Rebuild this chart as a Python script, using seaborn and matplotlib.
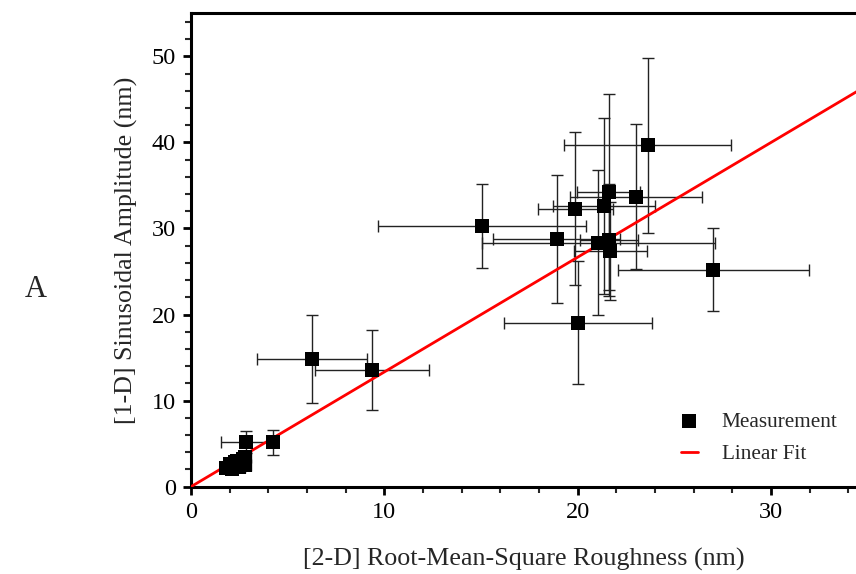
import numpy as np
import pandas as pd
import matplotlib
matplotlib.use("Agg")
import matplotlib.pyplot as plt
import seaborn as sns
from matplotlib.ticker import MultipleLocator

sns.set_theme(style="white")
plt.rcParams['font.family'] = ['Liberation Serif', 'DejaVu Serif']

# Measurements: 2-D RMS roughness (x) vs 1-D sinusoidal amplitude (y)
rms = [15.05, 18.91, 21.08, 21.60, 21.70, 21.60, 23.02, 19.89, 21.38, 23.62,
       27.02, 20.02, 6.25, 9.37, 2.83, 4.26,
       1.8, 2.0, 2.2, 2.3, 2.5, 2.6, 2.7, 2.8, 2.1, 2.4, 2.8]
amp = [30.3, 28.8, 28.37, 28.7, 27.4, 34.2, 33.7, 32.3, 32.6, 39.65,
       25.2, 19.07, 14.85, 13.53, 5.16, 5.16,
       2.2, 2.6, 2.4, 2.9, 2.3, 2.7, 3.2, 2.5, 2.1, 3.0, 3.4]
rms_err = [5.4, 3.3, 6.05, 1.5, 1.9, 1.65, 3.42, 1.96, 2.63, 4.3,
           4.95, 3.85, 2.83, 2.95, 1.3, 0.2,
           0.3, 0.3, 0.3, 0.3, 0.3, 0.3, 0.3, 0.3, 0.3, 0.3, 0.3]
amp_err = [4.9, 7.4, 8.4, 6.5, 5.7, 11.4, 8.4, 8.9, 10.2, 10.2,
           4.8, 7.1, 5.07, 4.66, 1.3, 1.45,
           0.4, 0.4, 0.4, 0.4, 0.4, 0.4, 0.4, 0.4, 0.4, 0.4, 0.4]

# Linear fit (through origin)
fit_slope = 1.333
fit_x = [0.0, 36.0]

df = pd.DataFrame({"rms": rms, "amp": amp})
fit_df = pd.DataFrame({"x": fit_x, "y": [fit_slope * v for v in fit_x]})

fig = plt.figure(figsize=(8.56, 5.74), dpi=100)
ax = fig.add_axes([0.2231, 0.1521, 0.7769, 0.8247])

ax.errorbar(rms, amp, xerr=rms_err, yerr=amp_err, fmt='none',
            ecolor='#222222', elinewidth=1.0, capsize=4.5, capthick=1.0, zorder=2)
sns.lineplot(data=fit_df, x="x", y="y", color='#ff0000', lw=2.0, ax=ax,
             label="Linear Fit", zorder=3)
sns.scatterplot(data=df, x="rms", y="amp", marker='s', s=110, color='black',
                edgecolor='black', linewidth=0, ax=ax, label="Measurement", zorder=4)

ax.set_xlim(0, 34.4)
ax.set_ylim(0, 55)
ax.xaxis.set_major_locator(MultipleLocator(10))
ax.xaxis.set_minor_locator(MultipleLocator(2))
ax.yaxis.set_major_locator(MultipleLocator(10))
ax.yaxis.set_minor_locator(MultipleLocator(2))
ax.tick_params(which='major', direction='out', length=6, width=2.0, pad=5,
               labelsize=17.5, colors='black', left=True, bottom=True)
ax.tick_params(which='minor', direction='out', length=4, width=1.5,
               left=True, bottom=True)

for side in ['left', 'bottom', 'top']:
    ax.spines[side].set_visible(True)
    ax.spines[side].set_color('black')
    ax.spines[side].set_linewidth(2.2)
ax.spines['right'].set_visible(False)

ax.set_xlabel("[2-D] Root-Mean-Square Roughness (nm)", fontsize=18.7, labelpad=18)
ax.set_ylabel("[1-D] Sinusoidal Amplitude (nm)", fontsize=18.7, labelpad=10)

handles, labels = ax.get_legend_handles_labels()
order = [labels.index("Measurement"), labels.index("Linear Fit")]
leg = ax.legend([handles[i] for i in order], [labels[i] for i in order],
                loc='upper left', bbox_to_anchor=(0.708, 0.198),
                frameon=False, fontsize=15.3, handlelength=0.8,
                handletextpad=1.12, labelspacing=0.58)

fig.text(0.042, 0.495, "A", fontsize=22, ha='center', va='center')

fig.savefig("out.png", dpi=100)
